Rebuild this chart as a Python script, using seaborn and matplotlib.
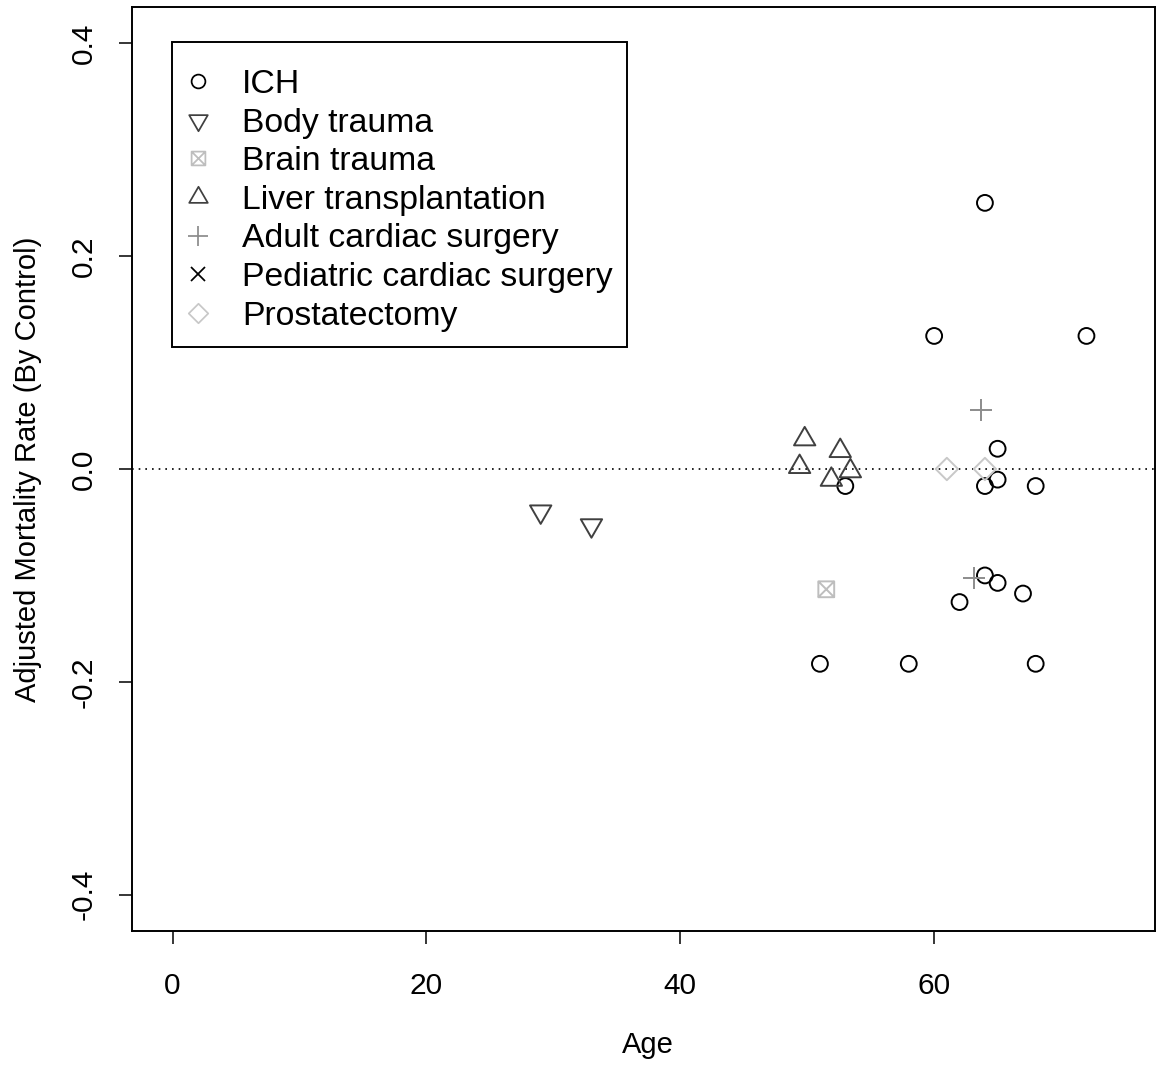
import numpy as np
import pandas as pd
import matplotlib
matplotlib.use("Agg")
import matplotlib.pyplot as plt
from matplotlib.path import Path
from matplotlib.lines import Line2D
from matplotlib.patches import Rectangle
import seaborn as sns

# ---- data: age vs adjusted mortality rate, by study group ----
ich_age = [64, 60, 72, 65, 65, 64, 68, 53, 64, 65, 67, 62, 51, 58, 68]
ich_rate = [0.250, 0.125, 0.125, 0.019, -0.010, -0.016, -0.016, -0.016,
            -0.100, -0.107, -0.117, -0.125, -0.183, -0.183, -0.183]

body_age = [29, 33]
body_rate = [-0.040, -0.053]

brain_age = [51.5]
brain_rate = [-0.113]

liver_age = [49.8, 49.4, 52.6, 53.4, 51.9]
liver_rate = [0.028, 0.002, 0.017, -0.002, -0.010]

adult_age = [63.7, 63.1]
adult_rate = [0.055, -0.102]

pedi_age = []
pedi_rate = []

prost_age = [61, 64]
prost_rate = [0.0, 0.0]

groups = ["ICH", "Body trauma", "Brain trauma", "Liver transplantation",
          "Adult cardiac surgery", "Pediatric cardiac surgery", "Prostatectomy"]
ages = [ich_age, body_age, brain_age, liver_age, adult_age, pedi_age, prost_age]
rates = [ich_rate, body_rate, brain_rate, liver_rate, adult_rate, pedi_rate, prost_rate]

df = pd.DataFrame({
    "Age": [a for g in ages for a in g],
    "Rate": [r for g in rates for r in g],
    "Group": [name for name, g in zip(groups, ages) for _ in g],
})

# ---- base-R style plotting symbols ----
TRC0, TRC1, TRC2 = 1.5551, 1.3468, 0.7776
tri_up = Path([(0, TRC0), (TRC1, -TRC2), (-TRC1, -TRC2), (0, TRC0)],
              [Path.MOVETO, Path.LINETO, Path.LINETO, Path.CLOSEPOLY])
tri_down = Path([(0, -TRC0), (TRC1, TRC2), (-TRC1, TRC2), (0, -TRC0)],
                [Path.MOVETO, Path.LINETO, Path.LINETO, Path.CLOSEPOLY])
box_x = Path([(-1, -1), (1, -1), (1, 1), (-1, 1), (-1, -1),
              (-1, -1), (1, 1), (-1, 1), (1, -1)],
             [Path.MOVETO, Path.LINETO, Path.LINETO, Path.LINETO, Path.CLOSEPOLY,
              Path.MOVETO, Path.LINETO, Path.MOVETO, Path.LINETO])
diamond = Path([(0, 1), (1, 0), (0, -1), (-1, 0), (0, 1)],
               [Path.MOVETO, Path.LINETO, Path.LINETO, Path.LINETO, Path.CLOSEPOLY])

R = 5.7  # symbol radius in points
# marker, marker size (points), colour
style = {
    "ICH": ("o", 2 * R, "#000000"),
    "Body trauma": (tri_down, 2 * TRC0 * R, "#404040"),
    "Brain trauma": (box_x, 2 * R, "#bebebe"),
    "Liver transplantation": (tri_up, 2 * TRC0 * R, "#404040"),
    "Adult cardiac surgery": ("+", 2 * np.sqrt(2) * R, "#8c8c8c"),
    "Pediatric cardiac surgery": ("x", 2 * R, "#000000"),
    "Prostatectomy": (diamond, 2 * np.sqrt(2) * R, "#c8c8c8"),
}
LW = 1.4

sns.set_theme(style="white")
plt.rcParams["font.family"] = ["Liberation Sans", "DejaVu Sans"]

W, H = 1156, 1065
fig = plt.figure(figsize=(W / 100, H / 100), dpi=100)
L, T, RGT, B = 132, 7, 1155, 931
ax = fig.add_axes([L / W, 1 - B / H, (RGT - L) / W, (B - T) / H])


def ax_x(px):
    return (px - L) / (RGT - L)


def ax_y(py):
    return (B - py) / (B - T)


ax.axhline(0, color="black", lw=1.2, linestyle=(0, (1, 3)), zorder=1)

for name in groups:
    sub = df[df["Group"] == name]
    if sub.empty:
        continue
    m, ms, c = style[name]
    if m in ("+", "x"):
        sns.scatterplot(data=sub, x="Age", y="Rate", marker=m, s=ms ** 2,
                        color=c, linewidth=LW, ax=ax, zorder=3)
    else:
        sns.scatterplot(data=sub, x="Age", y="Rate", marker=m, s=ms ** 2,
                        facecolor="none", edgecolor=c, linewidth=LW, ax=ax, zorder=3)

ax.set_xlim(-3.2, 77.4)
ax.set_ylim(-0.434, 0.434)
ax.set_xticks([0, 20, 40, 60])
ax.set_xticklabels(["0", "20", "40", "60"])
ax.set_yticks([-0.4, -0.2, 0.0, 0.2, 0.4])
ax.set_yticklabels(["-0.4", "-0.2", "0.0", "0.2", "0.4"], rotation=90, va="center")

for sp in ax.spines.values():
    sp.set_visible(True)
    sp.set_color("black")
    sp.set_linewidth(1.4)

ax.tick_params(axis="both", which="major", direction="out", length=9.4, width=1.1,
               color="black", labelsize=21.5, labelcolor="black",
               bottom=True, left=True, top=False, right=False)
ax.tick_params(axis="x", pad=20)
ax.tick_params(axis="y", pad=15)

ax.set_xlabel("Age", fontsize=21, color="black")
ax.set_ylabel("Adjusted Mortality Rate (By Control)", fontsize=21, color="black")
ax.xaxis.set_label_coords(ax_x(648), ax_y(1045))
ax.xaxis.label.set_va("center")
ax.yaxis.set_label_coords(ax_x(28), 0.5)
ax.yaxis.label.set_va("center")
ax.grid(False)

# legend: symbols + labels, with a plain rectangular frame around them
handles = []
for name in groups:
    m, ms, c = style[name]
    if m in ("+", "x"):
        h = Line2D([], [], linestyle="none", marker=m, markersize=ms * 0.87,
                   color=c, markeredgewidth=LW * 0.9)
    else:
        h = Line2D([], [], linestyle="none", marker=m, markersize=ms * 0.87,
                   markerfacecolor="none", markeredgecolor=c, markeredgewidth=LW * 0.9)
    handles.append(h)

LEG_FS = 24.3
leg = ax.legend(handles, groups, loc="upper left",
                bbox_to_anchor=(ax_x(198), ax_y(69)),
                borderaxespad=0, fontsize=LEG_FS, frameon=False,
                borderpad=0, handlelength=0, handletextpad=1.30,
                labelspacing=0.225)
for t in leg.get_texts():
    t.set_color("black")

ax.add_patch(Rectangle((ax_x(172), ax_y(347)), ax_x(627) - ax_x(172),
                       ax_y(42) - ax_y(347), transform=ax.transAxes,
                       fill=False, edgecolor="black", linewidth=1.4, zorder=4))

fig.savefig("out.png", dpi=100, facecolor="white")
